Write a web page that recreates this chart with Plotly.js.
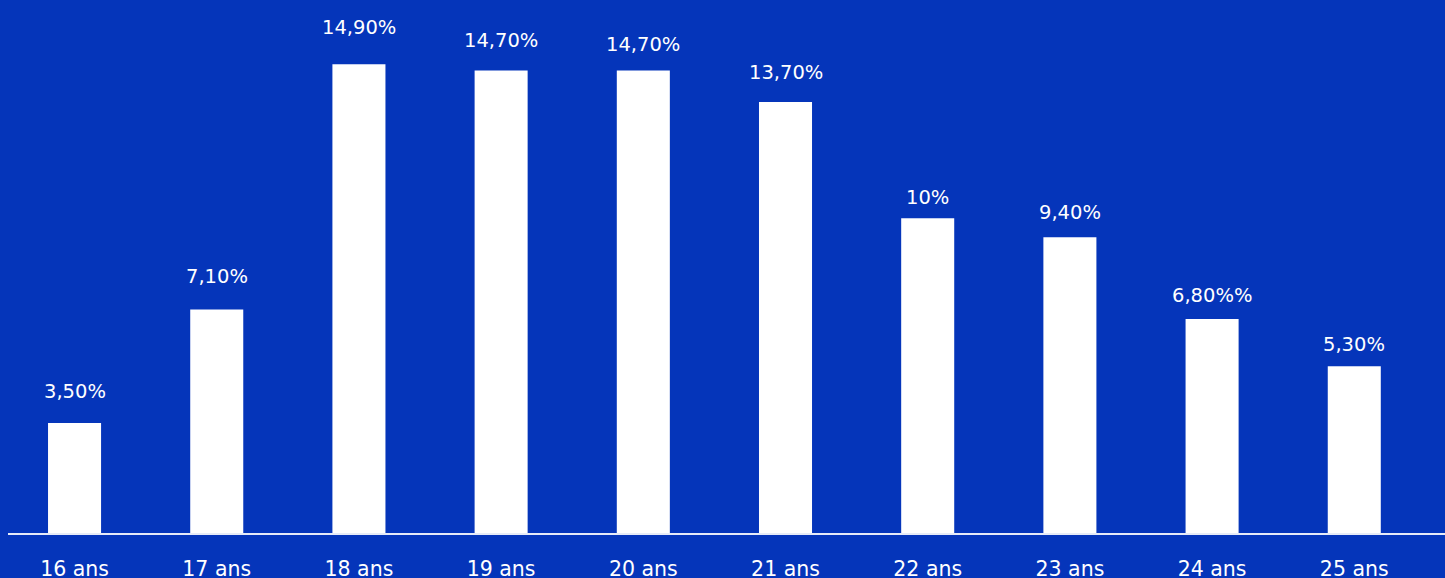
<!DOCTYPE html>
<html><head><meta charset="utf-8">
<script src="https://cdn.plot.ly/plotly-3.0.1.min.js"></script>
<style>html,body{margin:0;padding:0;background:#0535BA;}#c{width:1445px;height:578px;}</style>
</head><body><div id="c"></div>
<script>
const categories = ["16 ans","17 ans","18 ans","19 ans","20 ans","21 ans","22 ans","23 ans","24 ans","25 ans"];
const values = [3.5, 7.1, 14.9, 14.7, 14.7, 13.7, 10, 9.4, 6.8, 5.3];
const valueLabels = ["3,50%","7,10%","14,90%","14,70%","14,70%","13,70%","10%","9,40%","6,80%%","5,30%"];

// label offsets above bar tops (style only, in px)
const labelShift = [31, 33, 37, 30, 26, 29, 21, 25, 24, 22];

const font = "DejaVu Sans, sans-serif";
const trace = {type:"bar", x:categories, y:values, marker:{color:"#ffffff", line:{width:0}}, hoverinfo:"none"};
const annotations = categories.map((c,i)=>({x:c, y:values[i], text:valueLabels[i], showarrow:false, yanchor:"middle", yshift:labelShift[i], font:{family:font, size:19.5, color:"#ffffff"}}));
const layout = {
  width:1445, height:578,
  margin:{l:8, r:0, t:0, b:45},
  paper_bgcolor:"#0535BA", plot_bgcolor:"#0535BA",
  bargap:0.627, showlegend:false,
  xaxis:{type:"category", range:[-0.468, 9.638], showline:true, linecolor:"rgba(255,255,255,0.9)", linewidth:1.5,
         ticks:"", ticklabelstandoff:17, tickfont:{family:font, size:20.5, color:"#ffffff"}, showgrid:false, zeroline:false, fixedrange:true},
  yaxis:{range:[0,16.94], visible:false, showgrid:false, zeroline:false},
  annotations:annotations
};
Plotly.newPlot("c",[trace],layout,{displayModeBar:false, staticPlot:true});
</script></body></html>
